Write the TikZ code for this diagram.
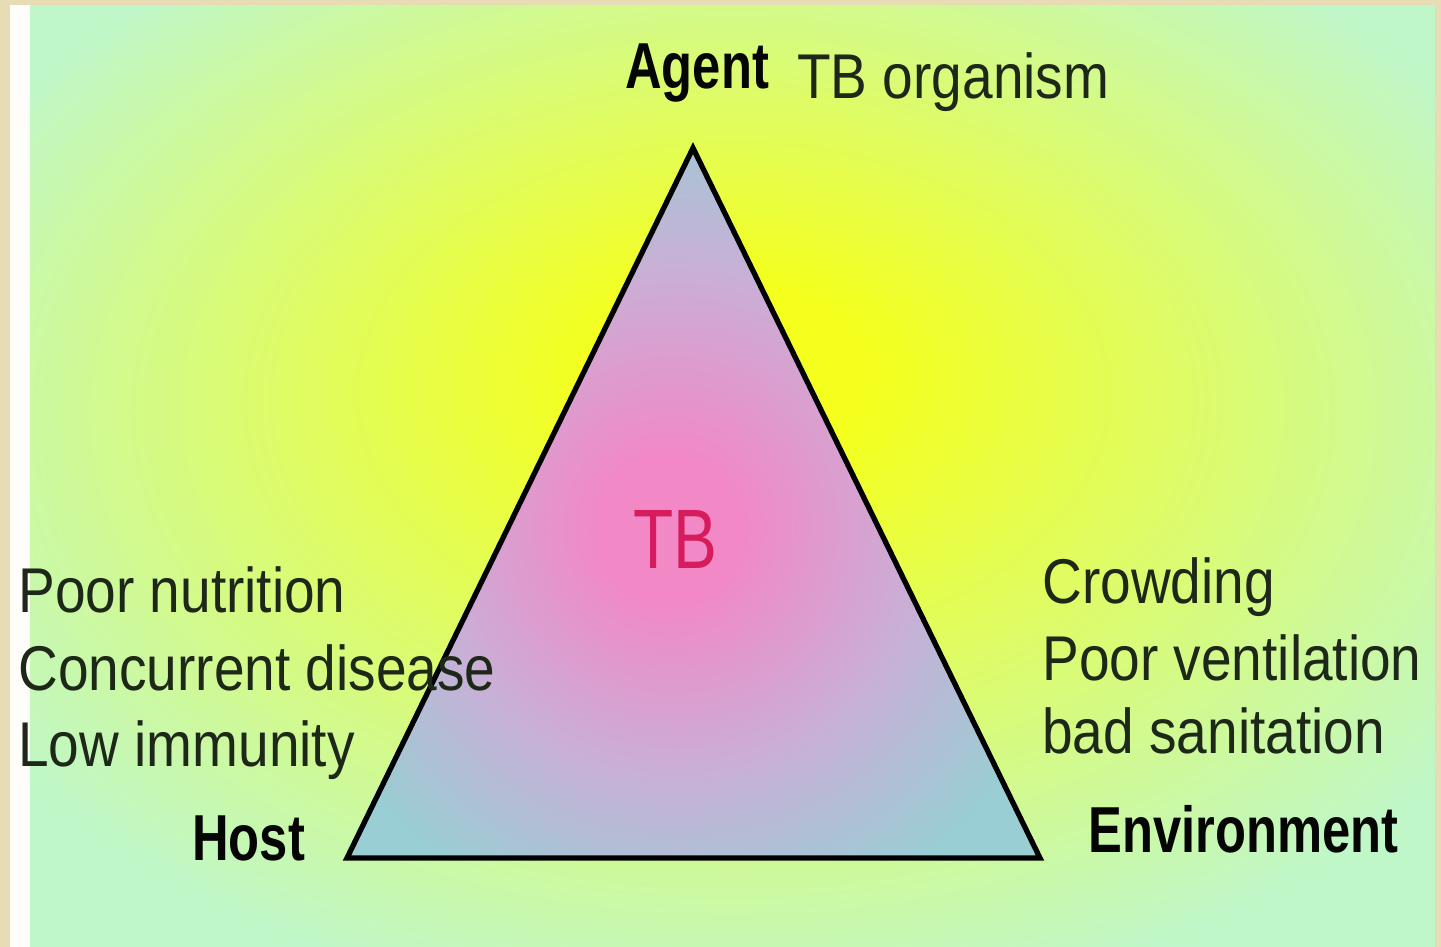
\documentclass[tikz,border=0pt]{standalone}
\usepackage{fontspec}
\newfontfamily\labelfont[FakeStretch=0.87]{Liberation Sans}
\newfontfamily\cornerfont[FakeStretch=0.78]{Liberation Sans}

\definecolor{framebeige}{RGB}{232,220,180}
\definecolor{mint}{RGB}{192,247,200}
\definecolor{glow}{RGB}{244,255,30}
\definecolor{tbpink}{RGB}{242,136,198}
\definecolor{tblilac}{RGB}{200,176,214}
\definecolor{tbblue}{RGB}{152,206,212}
\definecolor{tbred}{RGB}{214,28,92}
\definecolor{ink}{RGB}{30,40,25}

\pgfdeclareradialshading{bgglow}{\pgfpoint{0bp}{6bp}}{color(0bp)=(glow); color(5bp)=(glow); color(31bp)=(mint); color(50bp)=(mint)}
\pgfdeclareradialshading{tbfill}{\pgfpoint{-2bp}{-2bp}}{color(0bp)=(tbpink); color(5bp)=(tbpink); color(18bp)=(tblilac); color(30bp)=(tbblue); color(50bp)=(tbblue)}

\tikzset{
    factor/.style={anchor=base west, inner sep=0pt, text=ink, font=\labelfont\fontsize{36}{36}\selectfont},
    corner/.style={anchor=base west, inner sep=0pt, text=black!85!ink, font=\cornerfont\bfseries\fontsize{37}{37}\selectfont},
}

\begin{document}
\begin{tikzpicture}[x=0.02cm, y=-0.02cm]
    \useasboundingbox (0,0) rectangle (1441,947);
    \fill[framebeige] (0,0) rectangle (1441,947);
    \fill[white!94!framebeige] (10,5) rectangle (30,947);
    \shade[shading=bgglow] (30,5) rectangle (1435,947);

    \coordinate (agent) at (693,148);
    \coordinate (host) at (347,858);
    \coordinate (env) at (1040,858);

    \shade[shading=tbfill] (agent) -- (host) -- (env) -- cycle;
    \draw[line width=3pt, line join=miter] (agent) -- (host) -- (env) -- cycle;

    \node[corner] (agentlabel) at (625,88) {Agent};
    \node[factor] (organism) at (797,98) {TB organism};
    \node[corner] (hostlabel) at (192,860) {Host};
    \node[corner] (envlabel) at (1088,852) {Environment};

    \node[factor, text=tbred, font=\cornerfont\fontsize{48}{48}\selectfont] (disease) at (633,568) {TB};

    \node[factor] (nutrition) at (18,612) {Poor nutrition};
    \node[factor] (concurrent) at (18,690) {Concurrent disease};
    \node[factor] (immunity) at (18,766) {Low immunity};

    \node[factor] (crowding) at (1042,603) {Crowding};
    \node[factor] (ventilation) at (1042,680) {Poor ventilation};
    \node[factor] (sanitation) at (1042,753) {bad sanitation};

\end{tikzpicture}
\end{document}
